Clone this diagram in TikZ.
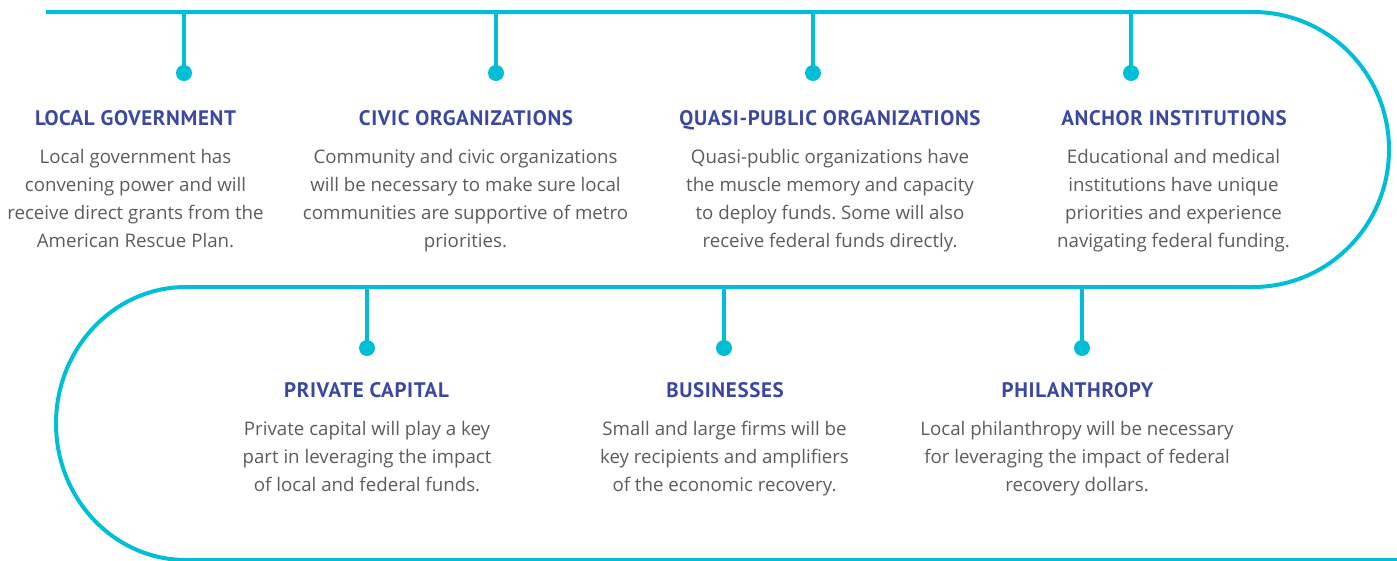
\documentclass[tikz,border=0pt]{standalone}
\usepackage{fontspec}
\setmainfont{Open Sans}
\newfontfamily\headfont{PT Sans}[LetterSpace=3]
\frenchspacing
\begin{document}
\begin{tikzpicture}[x=1pt,y=-1pt,
  track/.style={draw=trackcyan,line width=4pt},
  stem/.style={draw=trackcyan,line width=4pt},
  dot/.style={circle,fill=trackcyan,inner sep=0pt,minimum size=16pt},
  heading/.style={font=\headfont\bfseries\fontsize{21}{24}\selectfont,text=headblue,inner sep=0pt,anchor=base},
  body/.style={font=\fontsize{18.7}{28}\selectfont,text=bodygray,align=center,inner sep=0pt,anchor=base}]
\definecolor{trackcyan}{RGB}{0,190,214}
\definecolor{headblue}{RGB}{58,72,160}
\definecolor{bodygray}{RGB}{92,92,92}
\useasboundingbox (0,0) rectangle (1397,560);
\clip (0,0) rectangle (1397,560);
% serpentine track (y grows downward, so angle -90 is the top of an ellipse)
\coordinate (t0) at (46,12);
\coordinate (t1) at (1253,12);
\coordinate (m1) at (1253,287);
\coordinate (m0) at (186,287);
\coordinate (b0) at (186,560);
\coordinate (b1) at (1397,560);
\draw[track] (t0) -- (t1) arc[start angle=-90,end angle=90,x radius=136,y radius=137.5] -- (m0)
  arc[start angle=270,end angle=90,x radius=130,y radius=136.5] -- (b1);
% stems and dots, top row
\foreach \n/\x in {a/184,b/496,c/813,d/1131}{
  \coordinate (s\n) at (\x,12);
  \node[dot] (p\n) at (\x,73) {};
  \draw[stem] (s\n) -- (p\n.center);
}
% stems and dots, bottom row
\foreach \n/\x in {e/367,f/724,g/1082}{
  \coordinate (s\n) at (\x,287);
  \node[dot] (p\n) at (\x,348) {};
  \draw[stem] (s\n) -- (p\n.center);
}
% headings and descriptions (anchor=base sits on the last line)
\node[heading] (ha) at (135.5,125) {LOCAL GOVERNMENT};
\node[body] (xa) at (135.5,247) {Local government has\\convening power and will\\receive direct grants from the\\American Rescue Plan.};
\node[heading] (hb) at (466,125) {CIVIC ORGANIZATIONS};
\node[body] (xb) at (465.5,247) {Community and civic organizations\\will be necessary to make sure local\\communities are supportive of metro\\priorities.};
\node[heading] (hc) at (830,125) {QUASI-PUBLIC ORGANIZATIONS};
\node[body] (xc) at (830,247) {Quasi-public organizations have\\the muscle memory and capacity\\to deploy funds. Some will also\\receive federal funds directly.};
\node[heading] (hd) at (1174,125) {ANCHOR INSTITUTIONS};
\node[body] (xd) at (1173.5,247) {Educational and medical\\institutions have unique\\priorities and experience\\navigating federal funding.};
\node[heading] (he) at (366.5,397) {PRIVATE CAPITAL};
\node[body] (xe) at (367,491) {Private capital will play a key\\part in leveraging the impact\\of local and federal funds.};
\node[heading] (hf) at (725,397) {BUSINESSES};
\node[body] (xf) at (724.5,491) {Small and large firms will be\\key recipients and amplifiers\\of the economic recovery.};
\node[heading] (hg) at (1077.5,397) {PHILANTHROPY};
\node[body] (xg) at (1077,491) {Local philanthropy will be necessary\\for leveraging the impact of federal\\recovery dollars.};
\end{tikzpicture}
\end{document}
